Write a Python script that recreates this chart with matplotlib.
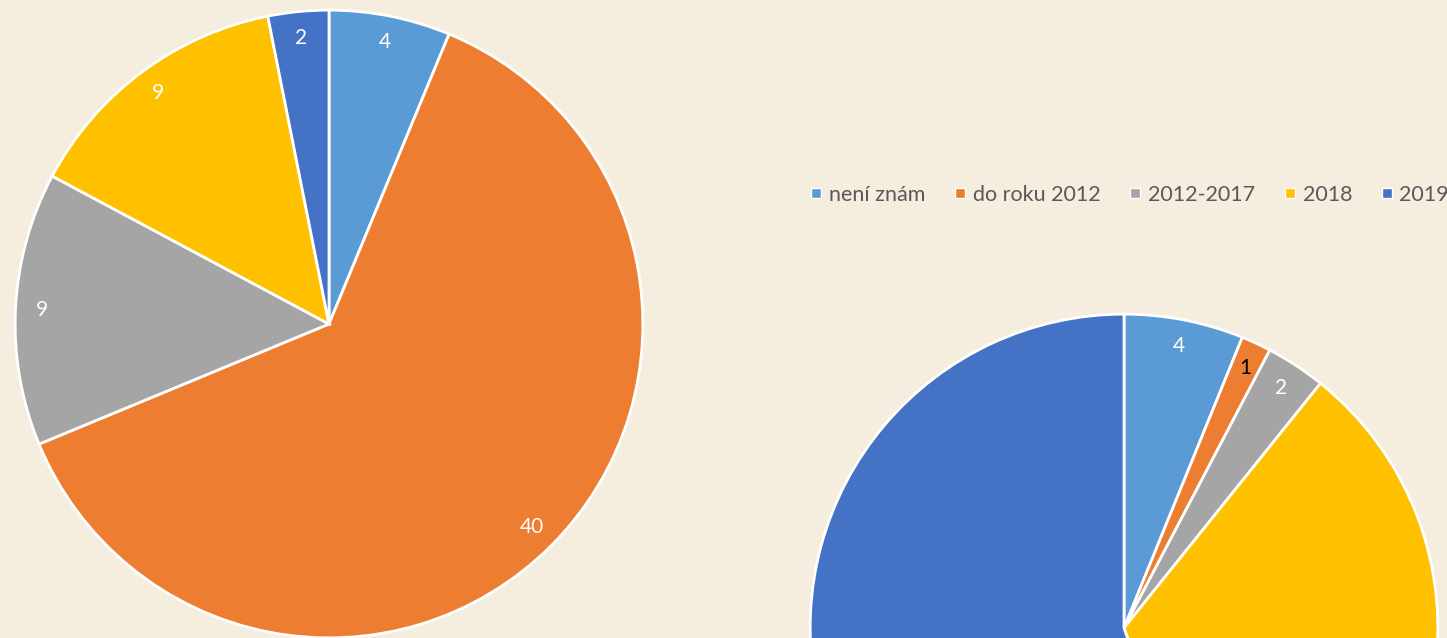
import matplotlib
matplotlib.use("Agg")
import matplotlib.pyplot as plt
from matplotlib.lines import Line2D

categories = ["není znám", "do roku 2012", "2012-2017", "2018", "2019"]
left_values = [4, 40, 9, 9, 2]
right_values = [4, 1, 2, 22, 36]
colors = ["#5B9BD5", "#ED7D31", "#A5A5A5", "#FFC000", "#4472C4"]
bg = "#F5EDDE"

plt.rcParams['font.family'] = ['Lato', 'DejaVu Sans']

W, H = 1447, 638
fig = plt.figure(figsize=(W / 100, H / 100), dpi=100)
fig.patch.set_facecolor(bg)


def add_pie(cx, cy, r, values, label_colors):
    ax = fig.add_axes([(cx - r) / W, (H - cy - r) / H, 2 * r / W, 2 * r / H])
    ax.set_facecolor("none")
    total = sum(values)
    wedges, texts, autotexts = ax.pie(
        values, colors=colors, startangle=90, counterclock=False,
        radius=1.0, autopct=lambda p: f"{round(p * total / 100):d}",
        pctdistance=0.915,
        wedgeprops=dict(edgecolor="white", linewidth=2.0),
        textprops=dict(fontsize=15, color="white"))
    for t, c in zip(autotexts, label_colors):
        t.set_color(c)
    ax.set_xlim(-1.01, 1.01)
    ax.set_ylim(-1.01, 1.01)
    ax.set_aspect("auto")
    ax.axis("off")
    return ax


add_pie(329, 324, 317, left_values, ["white"] * 5)
add_pie(1124, 628, 317, right_values, ["white", "black", "white", "white", "white"])

handles = [Line2D([0], [0], marker="s", linestyle="none", markersize=7.5,
                  markerfacecolor=c, markeredgecolor="white", markeredgewidth=1.0)
           for c in colors]
fig.legend(handles, categories, loc="center left",
           bbox_to_anchor=(810 / W, 1 - 195 / H), ncol=5, frameon=False,
           fontsize=15.5, labelcolor="#595959", handlelength=0.6,
           handletextpad=0.3, columnspacing=1.3, borderaxespad=0,
           borderpad=0)

fig.savefig("out.png", dpi=100, facecolor=bg)
